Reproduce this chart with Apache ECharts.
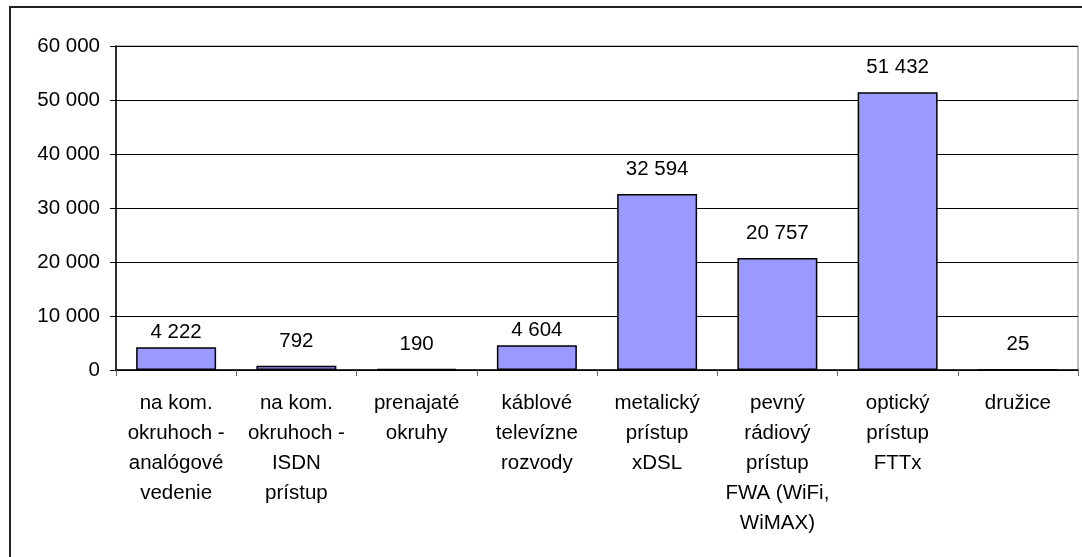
<!DOCTYPE html>
<html>
<head>
<meta charset="utf-8">
<script src="https://cdn.jsdelivr.net/npm/echarts@6/dist/echarts.min.js"></script>
<style>
    html, body { margin: 0; padding: 0; background: #fff; }
    #chart { width: 1082px; height: 557px; }
</style>
</head>
<body>
<div id="chart"></div>
<script>
// kategórie prístupu (zalomenie riadkov ako v origináli)
const categories = [
    'na kom.\nokruhoch -\nanalógové\nvedenie',
    'na kom.\nokruhoch -\nISDN\nprístup',
    'prenajaté\nokruhy',
    'káblové\ntelevízne\nrozvody',
    'metalický\nprístup\nxDSL',
    'pevný\nrádiový\nprístup\nFWA (WiFi,\nWiMAX)',
    'optický\nprístup\nFTTx',
    'družice'
]
const values = [4222, 792, 190, 4604, 32594, 20757, 51432, 25]
const yTicks = [0, 10000, 20000, 30000, 40000, 50000, 60000]

// formát čísla s medzerou ako oddeľovačom tisícov
function fmt(v) {
    return String(v).replace(/\B(?=(\d{3})+(?!\d))/g, ' ')
}

const font = 'Liberation Sans, Arial, sans-serif'
const fsize = 20.5

const chart = echarts.init(document.getElementById('chart'))

const option = {
    animation: false,
    backgroundColor: '#fff',
    graphic: [
        {
            type: 'rect',
            shape: { x: 10, y: 7, width: 1200, height: 700 },
            style: { fill: 'none', stroke: '#222', lineWidth: 2 },
            silent: true
        }
    ],
    grid: {
        left: 116,
        right: 4,
        top: 46,
        bottom: 187,
        show: true,
        borderColor: '#808080',
        borderWidth: 1
    },
    xAxis: {
        type: 'category',
        data: categories,
        axisLine: { lineStyle: { color: '#000', width: 1.5 } },
        axisTick: { show: true, length: 6, lineStyle: { color: '#666' } },
        axisLabel: {
            interval: 0,
            margin: 18,
            color: '#000',
            fontFamily: font,
            fontSize: fsize,
            lineHeight: 30,
            align: 'center'
        }
    },
    yAxis: {
        type: 'value',
        min: yTicks[0],
        max: yTicks[yTicks.length - 1],
        interval: 10000,
        axisLine: { show: true, lineStyle: { color: '#000', width: 1.5 } },
        axisTick: { show: true, length: 6, lineStyle: { color: '#000' } },
        splitLine: { lineStyle: { color: '#000', width: 1 } },
        axisLabel: {
            margin: 16,
            color: '#000',
            fontFamily: font,
            fontSize: fsize,
            formatter: fmt
        }
    },
    series: [
        {
            type: 'bar',
            barWidth: '66.5%',
            data: values.map(v => ({
                value: v,
                label: { distance: (v > 1000 && v < 10000) ? 4 : 14 }
            })),
            itemStyle: {
                color: '#9999FF',
                borderColor: '#000',
                borderWidth: 1.5
            },
            label: {
                show: true,
                position: 'top',
                color: '#000',
                fontFamily: font,
                fontSize: fsize,
                formatter: p => fmt(p.value)
            }
        }
    ]
}

chart.setOption(option)
</script>
</body>
</html>
